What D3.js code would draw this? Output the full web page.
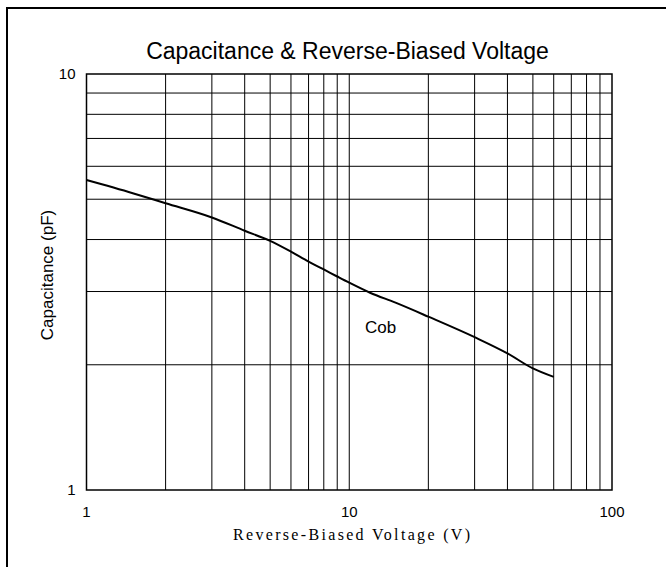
<!DOCTYPE html>
<html>
<head>
<meta charset="utf-8">
<script src="https://cdn.jsdelivr.net/npm/d3@7"></script>
<style>
body{margin:0;background:#fff;}
text{font-family:"Liberation Sans",Arial,sans-serif;fill:#000;}
</style>
</head>
<body>
<svg id="chart"></svg>
<script>
// curve
var voltage = [1, 1.5, 2, 3, 4, 5, 6, 7, 8, 9, 10, 12, 15, 20, 30, 40, 50, 60];
var capacitance = [5.56, 5.17, 4.89, 4.52, 4.2, 3.97, 3.74, 3.54, 3.39, 3.26, 3.15, 2.98, 2.82, 2.61, 2.33, 2.13, 1.96, 1.87];

var xTickLabels = [1, 10, 100];
var yTickLabels = [1, 10];
var xGrid = [2,3,4,5,6,7,8,9,10,20,30,40,50,60,70,80,90];
var yGrid = [2,3,4,5,6,7,8,9];

var screen = {width:666,height:567}
var plot = {left:86.5,right:612,top:74,bottom:490}

var svg = d3.select("#chart")
    .attr("width",screen.width)
    .attr("height",screen.height)

svg.append("rect")
    .attr("width",screen.width)
    .attr("height",screen.height)
    .attr("fill","#fff")

//outer frame, runs off the right / bottom edge
svg.append("rect")
    .attr("x",7)
    .attr("y",8)
    .attr("width",screen.width+20)
    .attr("height",screen.height+20)
    .attr("fill","none")
    .attr("stroke","#000")
    .attr("stroke-width",2)

var xScale = d3.scaleLog().domain([1,100]).range([plot.left,plot.right])
var yScale = d3.scaleLog().domain([1,10]).range([plot.bottom,plot.top])

var grid = svg.append("g").attr("id","grid")

grid.selectAll(".vline")
    .data(xGrid)
    .enter()
    .append("line")
    .attr("class","vline")
    .attr("x1",function(d){return xScale(d);})
    .attr("x2",function(d){return xScale(d);})
    .attr("y1",plot.top)
    .attr("y2",plot.bottom)
    .attr("stroke","#000")
    .attr("stroke-width",1)

grid.selectAll(".hline")
    .data(yGrid)
    .enter()
    .append("line")
    .attr("class","hline")
    .attr("y1",function(d){return yScale(d);})
    .attr("y2",function(d){return yScale(d);})
    .attr("x1",plot.left)
    .attr("x2",plot.right)
    .attr("stroke","#000")
    .attr("stroke-width",1)

svg.append("rect")
    .attr("x",plot.left)
    .attr("y",plot.top)
    .attr("width",plot.right-plot.left)
    .attr("height",plot.bottom-plot.top)
    .attr("fill","none")
    .attr("stroke","#000")
    .attr("stroke-width",1.5)

//tick labels
svg.selectAll(".xlab")
    .data(xTickLabels)
    .enter()
    .append("text")
    .attr("class","xlab")
    .attr("x",function(d){return xScale(d);})
    .attr("y",plot.bottom+27)
    .attr("text-anchor","middle")
    .style("font-size","15px")
    .text(function(d){return d;})

svg.selectAll(".ylab")
    .data(yTickLabels)
    .enter()
    .append("text")
    .attr("class","ylab")
    .attr("x",plot.left-11)
    .attr("y",function(d){return yScale(d)+5;})
    .attr("text-anchor","end")
    .style("font-size","15px")
    .text(function(d){return d;})

//curve
var line = d3.line()
    .x(function(d,i){return xScale(voltage[i]);})
    .y(function(d){return yScale(d);})
    .curve(d3.curveMonotoneX)

svg.append("path")
    .datum(capacitance)
    .attr("d",line)
    .attr("fill","none")
    .attr("stroke","#000")
    .attr("stroke-width",2)
    .attr("stroke-linejoin","round")

svg.append("text")
    .attr("x",365)
    .attr("y",333)
    .style("font-size","17px")
    .text("Cob")

//titles
svg.append("text")
    .attr("x",347.5)
    .attr("y",59)
    .attr("text-anchor","middle")
    .style("font-size","23px")
    .text("Capacitance & Reverse-Biased Voltage")

svg.append("text")
    .attr("transform","translate(53,275) rotate(-90)")
    .attr("text-anchor","middle")
    .style("font-size","17px")
    .text("Capacitance (pF)")

svg.append("text")
    .attr("x",233)
    .attr("y",540)
    .attr("textLength",237)
    .attr("lengthAdjust","spacing")
    .style("font-family","'Liberation Serif',serif")
    .style("font-size","16px")
    .text("Reverse-Biased Voltage (V)")
</script>
</body>
</html>
